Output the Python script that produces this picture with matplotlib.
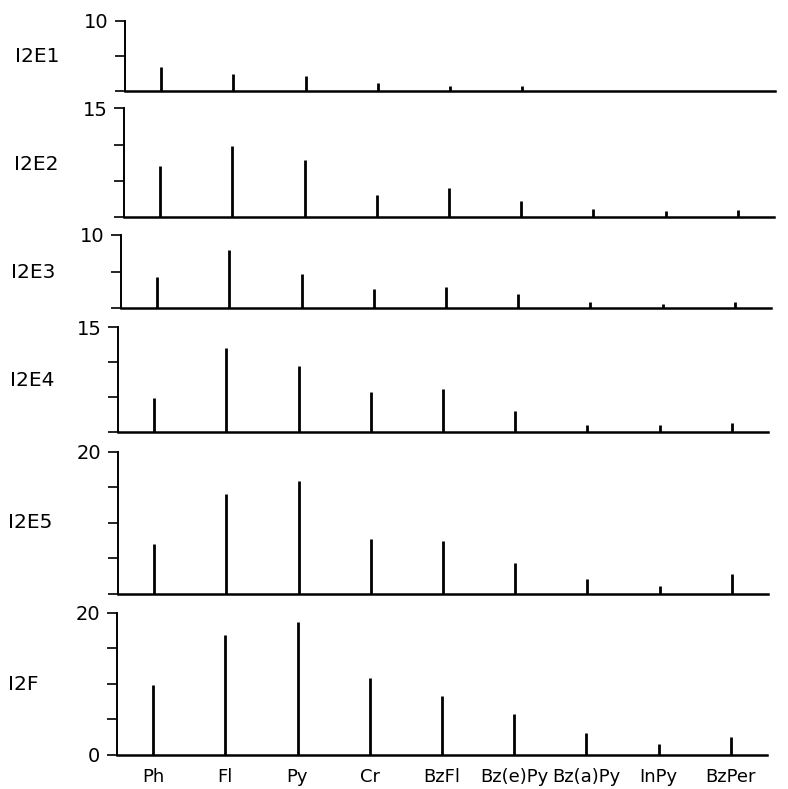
import matplotlib

matplotlib.use("Agg")
import matplotlib.pyplot as plt

compounds = ["Ph", "Fl", "Py", "Cr", "BzFl", "Bz(e)Py", "Bz(a)Py", "InPy", "BzPer"]
panel_names = ["I2E1", "I2E2", "I2E3", "I2E4", "I2E5", "I2F"]
panel_ymax = [10, 15, 10, 15, 20, 20]

i2e1 = [3.4, 2.4, 2.1, 1.15, 0.7, 0.6, 0.0, 0.0, 0.0]
i2e2 = [7.0, 9.85, 7.9, 3.1, 4.0, 2.3, 1.1, 0.9, 1.0]
i2e3 = [4.3, 8.0, 4.65, 2.65, 2.9, 2.0, 0.8, 0.6, 0.8]
i2e4 = [4.9, 12.1, 9.5, 5.8, 6.2, 3.1, 1.0, 1.0, 1.4]
i2e5 = [7.0, 14.0, 15.9, 7.8, 7.5, 4.4, 2.15, 1.1, 2.85]
i2f = [9.8, 16.9, 18.7, 10.8, 8.3, 5.8, 3.05, 1.6, 2.5]
series = [i2e1, i2e2, i2e3, i2e4, i2e5, i2f]

W, H = 788, 789
# (left px, top px, bottom px) per strip; the scanned page drifts a little
layout = [
    (125, 20.7, 90.7),
    (124, 108.3, 217.3),
    (121, 235.0, 308.3),
    (118, 327.3, 432.3),
    (118, 451.7, 594.0),
    (117, 612.7, 755.0),
]
label_pos = [(15, 57), (14, 165), (11, 273), (10, 381), (8, 522), (8, 685)]
STEP = 72.2

plt.rcParams["font.family"] = "DejaVu Sans"
fig = plt.figure(figsize=(W / 100, H / 100), dpi=100)
x = list(range(1, len(compounds) + 1))

for i, (name, ymax, vals, (lx, top, bot)) in enumerate(zip(panel_names, panel_ymax, series, layout)):
    ax = fig.add_axes([lx / W, 1 - bot / H, 9 * STEP / W, (bot - top) / H])
    ax.vlines(x, 0, vals, color="black", lw=2.0)
    ax.set_xlim(0.5, 9.5)
    ax.set_ylim(0, ymax)
    for s in ("top", "right"):
        ax.spines[s].set_visible(False)
    ax.spines["left"].set_linewidth(1.4)
    ax.spines["bottom"].set_linewidth(1.8)
    yt = list(range(0, ymax + 1, 5))
    last = i == len(panel_names) - 1
    ax.set_yticks(yt)
    ax.set_yticklabels(["0" if (t == 0 and last) else (str(t) if t == ymax else "") for t in yt])
    ax.tick_params(axis="y", direction="out", length=7, width=1.2, labelsize=14, pad=5)
    ax.set_xticks(x)
    if last:
        ax.set_xticklabels(compounds, fontsize=13)
        ax.tick_params(axis="x", length=0, pad=9)
    else:
        ax.set_xticklabels([])
        ax.tick_params(axis="x", length=0)
    fig.text(label_pos[i][0] / W, 1 - label_pos[i][1] / H, name, fontsize=14.5, va="center", ha="left")

fig.savefig("out.png", dpi=100)
